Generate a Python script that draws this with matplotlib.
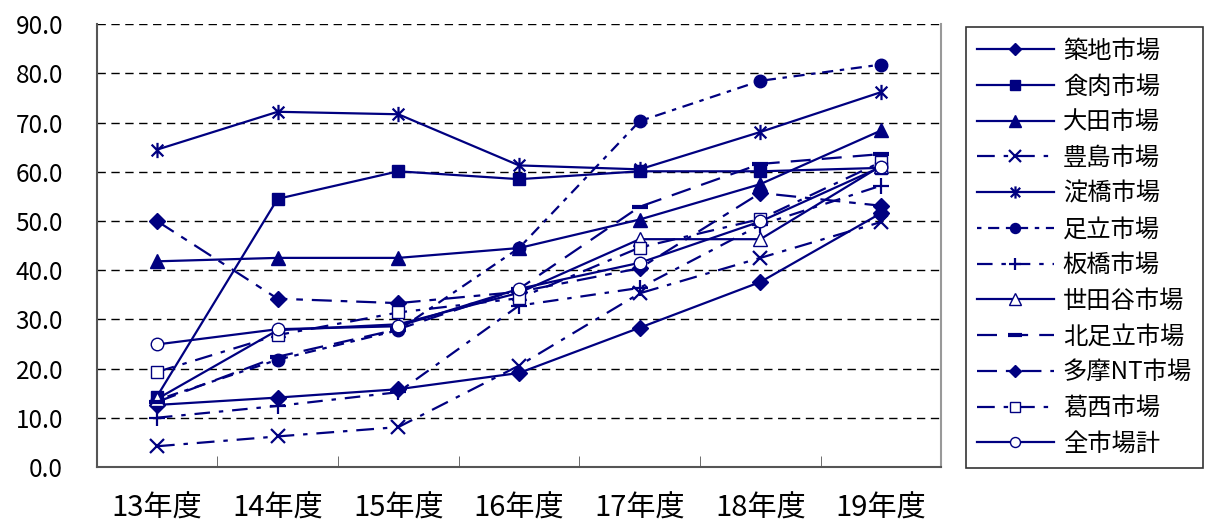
import matplotlib
matplotlib.use("Agg")
import matplotlib.pyplot as plt
from matplotlib.path import Path

plt.rcParams['font.family'] = ['Noto Sans CJK JP', 'DejaVu Sans']

years = ["13年度", "14年度", "15年度", "16年度", "17年度", "18年度", "19年度"]

tsukiji    = [12.6, 14.1, 15.8, 19.1, 28.3, 37.6, 51.6]
shokuniku  = [14.3, 54.5, 60.1, 58.5, 60.1, 60.1, 60.8]
ota        = [41.8, 42.5, 42.5, 44.5, 50.3, 57.5, 68.4]
toshima    = [4.2, 6.2, 8.1, 20.6, 35.3, 42.5, 49.8]
yodobashi  = [64.5, 72.2, 71.7, 61.3, 60.5, 68.1, 76.2]
adachi     = [13.6, 21.8, 27.8, 44.5, 70.3, 78.5, 81.8]
itabashi   = [10.0, 12.4, 15.2, 32.8, 36.4, 49.2, 57.2]
setagaya   = [13.8, 27.8, 29.0, 35.4, 46.3, 46.3, 61.2]
kitaadachi = [13.2, 22.4, 28.0, 36.2, 52.9, 61.6, 63.6]
tama       = [50.0, 34.2, 33.3, 35.6, 40.4, 55.7, 53.1]
kasai      = [19.3, 26.8, 31.4, 34.3, 44.6, 50.4, 62.0]
total      = [24.9, 28.0, 28.6, 36.2, 41.5, 49.9, 61.0]

names = ["築地市場", "食肉市場", "大田市場", "豊島市場", "淀橋市場", "足立市場",
         "板橋市場", "世田谷市場", "北足立市場", "多摩NT市場", "葛西市場", "全市場計"]
series = [tsukiji, shokuniku, ota, toshima, yodobashi, adachi,
          itabashi, setagaya, kitaadachi, tama, kasai, total]

# asterisk marker: x plus vertical bar
ast = Path([(-1, -1), (1, 1), (-1, 1), (1, -1), (0, -1.3), (0, 1.3)],
           [Path.MOVETO, Path.LINETO, Path.MOVETO, Path.LINETO, Path.MOVETO, Path.LINETO])

navy = "#000080"
styles = [
    dict(ls="-", marker="D", ms=8, mfc=navy),
    dict(ls="-", marker="s", ms=9, mfc=navy),
    dict(ls="-", marker="^", ms=10, mfc=navy),
    dict(ls=(0, (8, 4, 2, 4)), marker="x", ms=10, mew=1.6),
    dict(ls="-", marker=ast, ms=11, mew=1.6),
    dict(ls=(0, (2, 3, 5, 3)), marker="o", ms=9, mfc=navy),
    dict(ls=(0, (7, 4, 2, 4)), marker="+", ms=11, mew=1.6),
    dict(ls="-", marker="^", ms=10, mfc="white"),
    dict(ls=(0, (9, 5)), marker="_", ms=12, mew=3),
    dict(ls=(0, (9, 4, 3, 4)), marker="D", ms=8, mfc=navy),
    dict(ls=(0, (8, 4, 2, 4)), marker="s", ms=9, mfc="white"),
    dict(ls="-", marker="o", ms=9, mfc="white"),
]

fig = plt.figure(figsize=(12.07, 5.27), dpi=100)
ax = fig.add_axes([0.080, 0.114, 0.700, 0.840])

x = list(range(len(years)))
for name, vals, st in zip(names, series, styles):
    ax.plot(x, vals, color=navy, mec=navy, lw=1.6, label=name, **st)

ax.set_xlim(-0.5, 6.5)
ax.set_ylim(0, 90)
ax.set_yticks(range(0, 91, 10))
ax.set_yticklabels([f"{v:.1f}" for v in range(0, 91, 10)], fontsize=17.5)
ax.set_xticks(x)
ax.set_xticklabels(years, fontsize=21)
ax.set_xticks([i + 0.5 for i in range(-1, 7)], minor=True)
ax.tick_params(axis="x", which="major", length=0, pad=19)
ax.tick_params(axis="x", which="minor", direction="in", length=8, color="#555")
ax.tick_params(axis="y", length=0, pad=24)
for v in range(10, 91, 10):
    ax.axhline(v, color="black", lw=1, ls=(0, (6, 4)), zorder=0)
for s in ["left", "bottom"]:
    ax.spines[s].set_color("#555")
    ax.spines[s].set_linewidth(1.5)
ax.spines["right"].set_color("#999")
ax.spines["right"].set_linewidth(1.5)
ax.spines["top"].set_visible(False)

leg = fig.legend(loc="upper left", bbox_to_anchor=(0.800, 0.949), fontsize=17.5,
                 frameon=True, fancybox=False, edgecolor="black", handlelength=3.2,
                 labelspacing=0.4, borderpad=0.45, handletextpad=0.35, markerscale=0.8,
                 borderaxespad=0)
leg.get_frame().set_linewidth(1.2)

fig.savefig("out.png", dpi=100)
